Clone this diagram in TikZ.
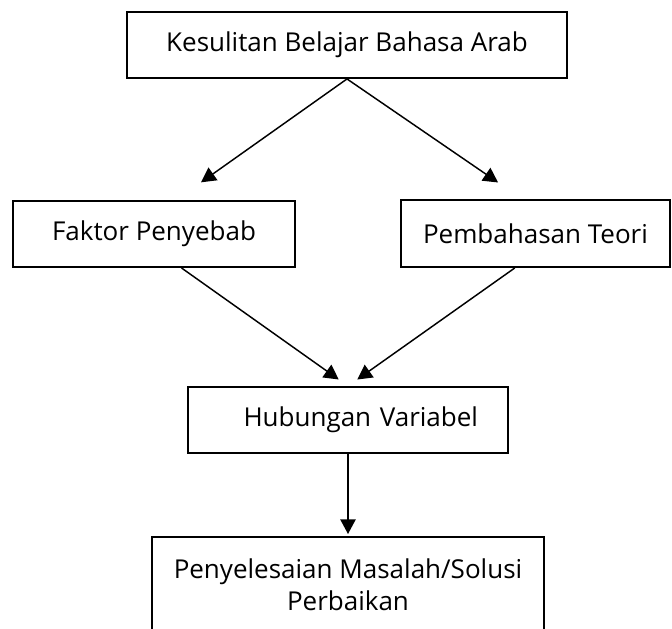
\documentclass[tikz,border=0pt]{standalone}
\usepackage{fontspec}
\setmainfont{Open Sans}
\usepackage{tikz}
\usetikzlibrary{positioning}
\usetikzlibrary{arrows.meta}
\tikzset{myBox/.style={draw=black, line width=1.4pt, rectangle, align=center, font=\fontsize{19.5}{24}\selectfont}}
\tikzset{myArrow/.style={line width=1.1pt, color=black, -{Triangle[length=11pt,width=11.5pt]}}}

\begin{document}
\begin{tikzpicture}[x=0.75pt,y=-0.75pt]
		\useasboundingbox (0,0) rectangle (672,629);
		\node[myBox, minimum width=330pt, minimum height=49.5pt](kesulitan) at (347,45){Kesulitan Belajar Bahasa Arab};
		\node[myBox, minimum width=211.5pt, minimum height=49.5pt](faktor) at (154,234){Faktor Penyebab};
		\node[myBox, minimum width=201.75pt, minimum height=50.25pt](teori) at (535.5,233.5){Pembahasan Teori};
		\node[myBox, minimum width=240pt, minimum height=49.5pt, inner xsep=22.5pt, text width=195pt, align=right](hubungan) at (348,420){Hubungan Variabel};
		\node[myBox, anchor=north, minimum width=294pt, inner ysep=16pt, text depth=40pt](solusi) at (348,536){Penyelesaian Masalah/Solusi\\Perbaikan};
		
		\draw[myArrow, shorten >=23pt](kesulitan.south) -- (faktor.57.5);
		\draw[myArrow, shorten >=22pt](kesulitan.south) -- (teori.111.2);
		\draw[myArrow, shorten >=8.5pt](faktor.-51.8) -- (hubungan.north);
		\draw[myArrow, shorten >=8.5pt](teori.-121.5) -- (hubungan.north);
		\draw[myArrow, shorten >=1.5pt](hubungan.south) -- (solusi.north);
\end{tikzpicture}
\end{document}
